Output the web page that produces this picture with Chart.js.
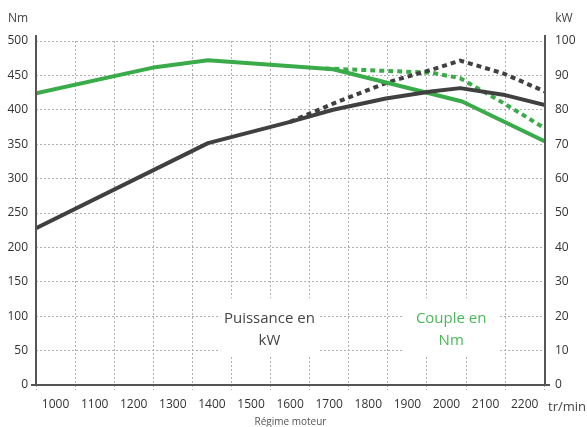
<!DOCTYPE html>
<html>
<head>
<meta charset="utf-8">
<script src="https://cdn.jsdelivr.net/npm/chart.js@4"></script>
<style>
  html, body { margin: 0; padding: 0; background: #fff; }
  #chart { display: block; }
</style>
</head>
<body>
<canvas id="chart" width="587" height="427"></canvas>
<script>
// engine speed ticks (tr/min)
const rpmTicks = [1000, 1100, 1200, 1300, 1400, 1500, 1600, 1700, 1800, 1900, 2000, 2100, 2200];

// torque curve (Nm, left axis)
const rpmTorque = [950, 1255, 1390, 1710, 2040, 2252];
const torqueNm = [424, 462, 472, 459, 412, 354];

// torque, dotted variant
const rpmTorqueAlt = [1690, 1960, 2035, 2145, 2252];
const torqueAltNm = [460, 454, 446, 410, 373];

// power curve (kW, right axis)
const rpmPower = [950, 1390, 1600, 1710, 1845, 1960, 2035, 2145, 2252];
const powerKw = [45.6, 70.3, 76.5, 80.0, 83.3, 85.3, 86.3, 84.4, 81.4];

// power, dotted variant
const rpmPowerAlt = [1600, 1710, 1850, 1960, 2035, 2145, 2252];
const powerAltKw = [76.5, 81.8, 88.0, 91.6, 94.3, 90.6, 85.3];

const GREEN = '#3aab49';
const GREEN_TEXT = '#4cb759';
const DARK = '#404040';
const FONT = "'Open Sans', 'Noto Sans', sans-serif";

// in-chart captions: [lines, colour, rpm, Nm]
const captions = [
    { lines: ['Puissance en', 'kW'], color: '#444', rpm: 1547, nm: 81 },
    { lines: ['Couple en', 'Nm'], color: GREEN_TEXT, rpm: 2012, nm: 81 }
];

const pts = (xs, ys) => xs.map((x, i) => ({ x: x, y: ys[i] }));

const decor = {
    id: 'decor',
    beforeDatasetsDraw(chart) {
        const ctx = chart.ctx, x = chart.scales.x, y = chart.scales.y;
        ctx.save();
        ctx.fillStyle = '#fff';
        captions.forEach(c => {
            const cx = x.getPixelForValue(c.rpm), cy = y.getPixelForValue(c.nm);
            ctx.fillRect(cx - 49, cy - 31, 98, 58);
        });
        ctx.restore();
    },
    afterDraw(chart) {
        const ctx = chart.ctx, a = chart.chartArea, x = chart.scales.x, y = chart.scales.y;
        ctx.save();
        // axis lines
        ctx.strokeStyle = '#555';
        ctx.lineWidth = 2;
        ctx.beginPath();
        ctx.moveTo(a.left, a.top - 6); ctx.lineTo(a.left, a.bottom);
        ctx.moveTo(a.right, a.top - 6); ctx.lineTo(a.right, a.bottom);
        ctx.moveTo(a.left - 5, a.bottom); ctx.lineTo(a.right + 5, a.bottom);
        ctx.stroke();

        // units
        ctx.fillStyle = '#444';
        ctx.textBaseline = 'middle';
        ctx.textAlign = 'center';
        ctx.font = '12px ' + FONT;
        ctx.fillText('Nm', a.left - 18, a.top - 22);
        ctx.fillText('kW', a.right + 19, a.top - 22);
        ctx.font = '13px ' + FONT;
        ctx.textAlign = 'left';
        ctx.fillText('tr/min', a.right + 3, a.bottom + 22);
        ctx.textAlign = 'center';
        ctx.font = '10px ' + FONT;
        ctx.fillStyle = '#555';
        ctx.fillText('Régime moteur', (a.left + a.right) / 2, a.bottom + 37);

        // captions
        ctx.font = '15px ' + FONT;
        captions.forEach(c => {
            const cx = x.getPixelForValue(c.rpm), cy = y.getPixelForValue(c.nm);
            ctx.fillStyle = c.color;
            ctx.fillText(c.lines[0], cx, cy - 11);
            ctx.fillText(c.lines[1], cx, cy + 11);
        });
        ctx.restore();
    }
};

new Chart(document.getElementById('chart'), {
    type: 'line',
    data: {
        datasets: [
            { label: 'Puissance', data: pts(rpmPower, powerKw), yAxisID: 'y1', borderColor: DARK, borderWidth: 4 },
            { label: 'Couple', data: pts(rpmTorque, torqueNm), yAxisID: 'y', borderColor: GREEN, borderWidth: 4 },
            { label: 'Puissance (2)', data: pts(rpmPowerAlt, powerAltKw), yAxisID: 'y1', borderColor: DARK, borderWidth: 4, borderDash: [5, 4] },
            { label: 'Couple (2)', data: pts(rpmTorqueAlt, torqueAltNm), yAxisID: 'y', borderColor: GREEN, borderWidth: 4, borderDash: [5, 4] }
        ]
    },
    options: {
        responsive: false,
        devicePixelRatio: 1,
        animation: false,
        parsing: false,
        elements: { point: { radius: 0 }, line: { tension: 0, fill: false, borderJoinStyle: 'round' } },
        layout: { padding: { top: 41, left: 0, right: 0, bottom: 0 } },
        plugins: { legend: { display: false }, tooltip: { enabled: false } },
        scales: {
            x: {
                type: 'linear',
                min: 950,
                max: 2252,
                afterBuildTicks: s => { s.ticks = rpmTicks.map(v => ({ value: v })); },
                afterFit: s => { s.height = 42; },
                border: { display: false, dash: [2, 2] },
                grid: { offset: true, color: '#b0b0b0', tickLength: 5, tickColor: '#b0b0b0', tickBorderDash: [2, 2] },
                ticks: { color: '#333', font: { family: FONT, size: 12 }, padding: 7, maxRotation: 0, autoSkip: false, callback: v => String(v) }
            },
            y: {
                position: 'left',
                min: 0,
                max: 500,
                ticks: { stepSize: 50, color: '#333', font: { family: FONT, size: 12 }, padding: 8 },
                afterFit: s => { s.width = 36; },
                border: { display: false, dash: [2, 2] },
                grid: { color: '#b0b0b0', drawTicks: false }
            },
            y1: {
                position: 'right',
                min: 0,
                max: 100,
                ticks: { stepSize: 10, color: '#333', font: { family: FONT, size: 12 }, padding: 10 },
                afterFit: s => { s.width = 42; },
                border: { display: false },
                grid: { display: false, drawTicks: false }
            }
        }
    },
    plugins: [decor]
});
</script>
</body>
</html>
